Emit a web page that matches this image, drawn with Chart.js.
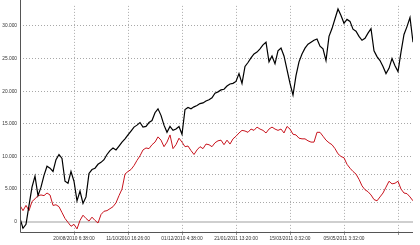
<!DOCTYPE html>
<html>
<head>
<meta charset="utf-8">
<script src="https://cdn.jsdelivr.net/npm/chart.js@4"></script>
<style>
html,body{margin:0;padding:0;background:#fff;}
canvas{display:block;}
</style>
</head>
<body>
<canvas id="c" width="420" height="245"></canvas>
<script>
const xTickPositions = [18, 36, 54, 72, 90, 108, 126];
const xTickLabels = ['20/08/2010 6:38:00', '11/10/2010 16:26:00', '01/12/2010 4:38:00', '21/01/2011 13:20:00', '15/03/2011 0:32:00', '05/05/2011 3:32:00', ''];
const yTickValues = [0, 2925, 5000, 7275, 10000, 15000, 20000, 25000, 30000];

const blackSeries = [
  500, -1000, -400, 2500, 5300, 7000, 4000, 5300, 7100, 8500,
  8200, 7700, 9500, 10300, 9700, 6200, 5900, 7700, 6200, 3200,
  4700, 2800, 3800, 7400, 8000, 8200, 8800, 9100, 9500, 10300,
  10900, 11300, 11000, 11600, 12200, 12700, 13300, 13900, 14500, 14800,
  15200, 14500, 14600, 15200, 15500, 16700, 17300, 16300, 14800, 13700,
  14600, 14000, 14200, 14600, 13400, 17200, 17500, 17300, 17600, 17800,
  18100, 18200, 18500, 18700, 19000, 19700, 19900, 20200, 20300, 20800,
  21100, 21200, 21500, 22700, 21200, 23800, 24400, 25100, 25700, 26000,
  26500, 27100, 27500, 24500, 25400, 24200, 26200, 26600, 25400, 23300,
  21200, 19400, 22400, 24500, 25700, 26600, 27200, 27500, 27800, 28000,
  26900, 26500, 24700, 28400, 29600, 31100, 32600, 31600, 30400, 31000,
  30700, 29500, 29200, 28400, 27800, 28100, 28900, 29600, 26200, 25300,
  24700, 23800, 22700, 23500, 25000, 23900, 23000, 26000, 28700, 29900,
  31300, 27500
];

const redSeries = [
  2500, 1700, 2500, 1700, 3100, 3500, 4000, 4100, 4000, 4400,
  4100, 2500, 2600, 2300, 1400, 500, -100, -700, -400, -1100,
  200, 1000, 500, 100, 700, 200, -200, 1100, 1600, 1700,
  2000, 2300, 2900, 4000, 5000, 7300, 7700, 8000, 8600, 9400,
  10100, 11000, 11300, 11200, 11800, 12200, 13000, 12500, 11500, 12200,
  13300, 11200, 11800, 12800, 12200, 11500, 11600, 10900, 10300, 11000,
  11500, 11200, 11900, 11800, 11500, 12100, 12400, 12500, 11800, 12500,
  11900, 12700, 13100, 13600, 14000, 13900, 13700, 14200, 14000, 14500,
  14200, 14000, 13600, 14200, 14500, 14200, 14000, 14200, 13600, 14600,
  14200, 13400, 13300, 12800, 12700, 12700, 12400, 12200, 12200, 13700,
  13700, 13100, 12500, 12100, 11800, 11200, 10400, 10000, 9800, 8800,
  8200, 7700, 7300, 6500, 5500, 4900, 4600, 4100, 3400, 3200,
  3800, 4400, 5300, 6200, 5800, 5900, 6200, 5000, 4400, 4300,
  3800, 3200
];

function toPoints(arr) { return arr.map((v, i) => ({ x: i, y: v })); }
function fmt(v) {
  if (v === 0) return '0';
  const s = String(Math.abs(v));
  return (v < 0 ? '-' : '') + s.replace(/\B(?=(\d{3})+(?!\d))/g, '.');
}

const tickFont = { family: 'Liberation Sans', size: 4.8 };

const solidAxes = {
  id: 'solidAxes',
  afterDraw(chart) {
    const { ctx, chartArea: a } = chart;
    ctx.save();
    ctx.strokeStyle = '#555';
    ctx.lineWidth = 1;
    ctx.setLineDash([]);
    ctx.beginPath();
    ctx.moveTo(a.left + 0.5, 0);
    ctx.lineTo(a.left + 0.5, a.bottom + 0.5);
    ctx.lineTo(a.right, a.bottom + 0.5);
    ctx.stroke();
    ctx.restore();
  }
};

new Chart(document.getElementById('c'), {
  type: 'line',
  data: {
    datasets: [
      { data: toPoints(blackSeries), borderColor: '#000000', borderWidth: 1.2, pointRadius: 0, tension: 0 },
      { data: toPoints(redSeries), borderColor: '#c8141e', borderWidth: 1, pointRadius: 0, tension: 0 }
    ]
  },
  plugins: [solidAxes],
  options: {
    responsive: false,
    animation: false,
    devicePixelRatio: 1,
    layout: { padding: { top: 1, right: 7, left: 0, bottom: 0 } },
    plugins: { legend: { display: false }, tooltip: { enabled: false } },
    scales: {
      x: {
        type: 'linear',
        min: 0,
        max: blackSeries.length - 1,
        afterBuildTicks: s => { s.ticks = xTickPositions.map(v => ({ value: v })); },
        afterFit: s => { s.height = 13; },
        border: { display: false, dash: [1, 2] },
        grid: { color: '#ababab', tickLength: 3, drawTicks: true, tickColor: '#999' },
        ticks: {
          autoSkip: false, maxRotation: 0, padding: 1, color: '#333', font: tickFont,
          callback: (v, i) => xTickLabels[i]
        }
      },
      y: {
        min: -1575,
        max: 33075,
        afterBuildTicks: s => { s.ticks = yTickValues.map(v => ({ value: v })); },
        afterFit: s => { s.width = 20; },
        border: {
          display: false,
          dash: c => c.tick && c.tick.value === 0 ? [] : [1, 2]
        },
        grid: {
          drawTicks: false,
          color: c => c.tick && c.tick.value === 0 ? '#cfcfcf' : '#a8a8a8',
          lineWidth: c => c.tick && c.tick.value === 0 ? 2 : 1
        },
        ticks: {
          padding: 3, color: '#333', font: tickFont,
          callback: v => (v % 5000 === 0 ? fmt(v) : '')
        }
      }
    }
  }
});
</script>
</body>
</html>
